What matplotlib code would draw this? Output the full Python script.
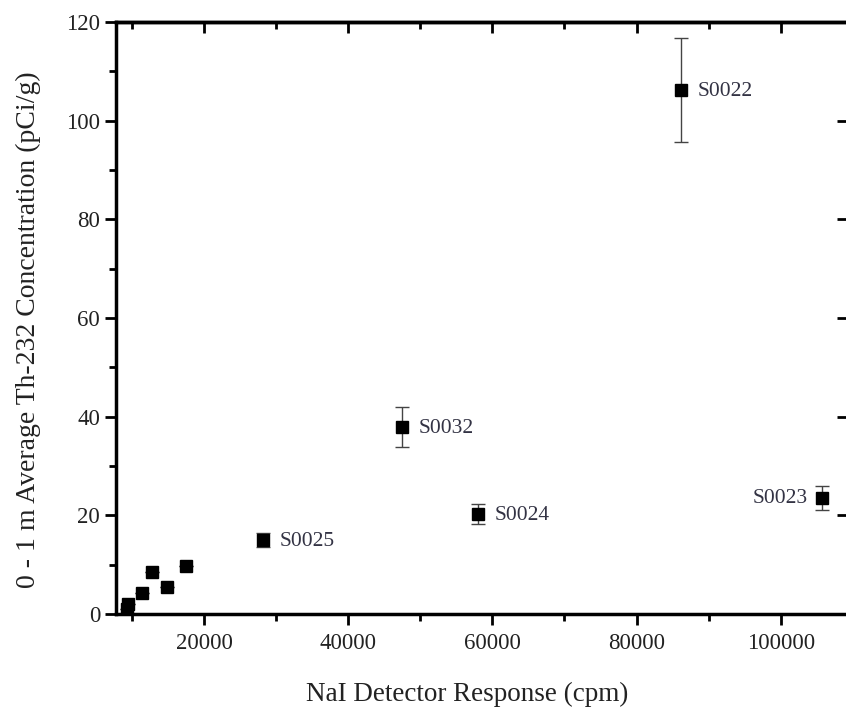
import numpy as np
import matplotlib
matplotlib.use('Agg')
import matplotlib.pyplot as plt
from matplotlib.ticker import MultipleLocator

plt.rcParams['font.family'] = ['Liberation Serif', 'DejaVu Serif']

# NaI response (cpm) vs 0-1 m average Th-232 (pCi/g)
cpm = [9300, 9400, 11400, 12800, 14900, 17500, 28200, 47450, 58000, 86100, 105700]
th232 = [1.0, 2.0, 4.3, 8.5, 5.5, 9.7, 15.0, 37.9, 20.3, 106.2, 23.5]
err = [0, 0, 0, 0, 0, 0, 1.5, 4.0, 2.0, 10.5, 2.5]

labels = ['S0025', 'S0032', 'S0024', 'S0022', 'S0023']
label_idx = [6, 7, 8, 9, 10]

fig = plt.figure(figsize=(8.46, 7.08), dpi=100)
ax = fig.add_axes([0.1371, 0.1328, 0.865, 0.8361])

# error bars (thin, grey) then the square markers on top
ax.errorbar(cpm, th232, yerr=err, fmt='none', ecolor='#444444',
            elinewidth=1.0, capsize=5, capthick=1.0, zorder=2)
ax.plot(cpm, th232, 's', color='black', markersize=9, zorder=3)

for name, i in zip(labels, label_idx):
    if name == 'S0023':
        ax.annotate(name, (cpm[i], th232[i]), xytext=(-10, 0), textcoords='offset points',
                    ha='right', va='center', fontsize=15.5, color='#333344')
    else:
        ax.annotate(name, (cpm[i], th232[i]), xytext=(12, -1), textcoords='offset points',
                    ha='left', va='center', fontsize=15.5, color='#333344')

ax.set_xlim(7800, 109300)
ax.set_ylim(0, 120)
ax.xaxis.set_major_locator(MultipleLocator(20000))
ax.xaxis.set_minor_locator(MultipleLocator(10000))
ax.yaxis.set_major_locator(MultipleLocator(20))
ax.yaxis.set_minor_locator(MultipleLocator(10))

for s in ax.spines.values():
    s.set_linewidth(2.5)

ax.tick_params(which='major', direction='out', length=8, width=2, labelsize=16.5,
               top=False, right=False, labelcolor='#222222')
ax.tick_params(which='minor', direction='out', length=5, width=2)
ax.tick_params(axis='x', which='major', pad=6)

# inward ticks on top and right
sec_x = ax.secondary_xaxis('top')
sec_x.xaxis.set_major_locator(MultipleLocator(20000))
sec_x.xaxis.set_minor_locator(MultipleLocator(10000))
sec_x.tick_params(which='major', direction='in', length=8, width=2, labeltop=False)
sec_x.tick_params(which='minor', direction='in', length=5, width=2)
sec_x.spines['top'].set_linewidth(2.5)
sec_y = ax.secondary_yaxis('right')
sec_y.yaxis.set_major_locator(MultipleLocator(20))
sec_y.tick_params(which='major', direction='in', length=8, width=2, labelright=False)
sec_y.spines['right'].set_linewidth(2.5)

ax.set_xlabel('NaI Detector Response (cpm)', fontsize=19.5, color='#222222')
ax.set_ylabel('0 - 1 m Average Th-232 Concentration (pCi/g)', fontsize=20,
              color='#222222')
ax.xaxis.set_label_coords(0.48, -0.115)
ax.yaxis.set_label_coords(-0.103, 0.48)

fig.savefig('out.png', dpi=100)
